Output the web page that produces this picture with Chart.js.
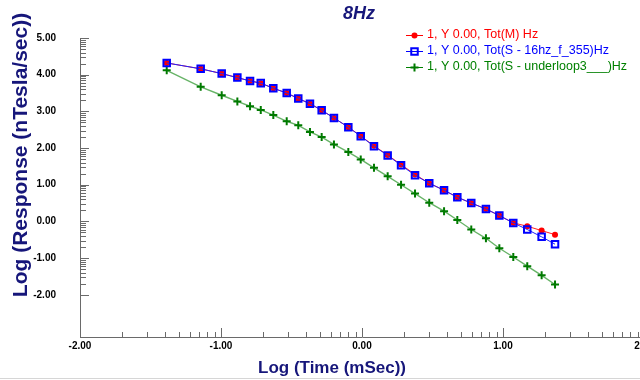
<!DOCTYPE html>
<html>
<head>
<meta charset="utf-8">
<script src="https://cdn.jsdelivr.net/npm/chart.js@4"></script>
<style>
html, body { margin: 0; padding: 0; overflow: hidden; background: #ffffff; width: 640px; height: 380px; }
#wrap { position: relative; width: 660px; height: 380px; }
</style>
</head>
<body>
<div id="wrap"><canvas id="c" width="660" height="380"></canvas></div>
<script>
// ---- data ----
const chartTitle = '8Hz';
const xAxisTitle = 'Log (Time (mSec))';
const yAxisTitle = 'Log (Response (nTesla/sec))';
const seriesNames = [
  '1, Y 0.00, Tot(M) Hz',
  '1, Y 0.00, Tot(S - 16hz_f_355)Hz',
  '1, Y 0.00, Tot(S - underloop3___)Hz'
];
const logTime = [-1.385, -1.144, -0.995, -0.884, -0.794, -0.718, -0.629, -0.534, -0.452, -0.369,
  -0.286, -0.199, -0.097, -0.009, 0.085, 0.182, 0.277, 0.376, 0.477, 0.582,
  0.676, 0.775, 0.879, 0.974, 1.073, 1.172, 1.274, 1.369];
const totM = [4.32, 4.16, 4.03, 3.92, 3.83, 3.77, 3.63, 3.50, 3.35, 3.21,
  3.03, 2.82, 2.57, 2.33, 2.06, 1.81, 1.55, 1.28, 1.04, 0.85,
  0.66, 0.50, 0.34, 0.16, -0.04, -0.13, -0.25, -0.36];
const tot16hz = [4.32, 4.16, 4.03, 3.92, 3.83, 3.77, 3.63, 3.50, 3.35, 3.21,
  3.03, 2.82, 2.57, 2.32, 2.05, 1.80, 1.53, 1.26, 1.04, 0.85,
  0.66, 0.50, 0.34, 0.16, -0.04, -0.22, -0.42, -0.62];
const totUnderloop = [4.12, 3.67, 3.44, 3.27, 3.14, 3.04, 2.90, 2.73, 2.62, 2.44,
  2.30, 2.10, 1.89, 1.69, 1.46, 1.23, 1.00, 0.76, 0.51, 0.28,
  0.04, -0.22, -0.46, -0.73, -0.97, -1.22, -1.47, -1.72];
const xTicks = [-2, -1, 0, 1, 2];
const yTicks = [-2, -1, 0, 1, 2, 3, 4, 5];
const xRange = [-2, 2];
const yRange = [-3.15, 5];

// ---- styling ----
const navy = '#16167a';
const axisGray = '#6a6a6a';
const FONT = '"Liberation Sans", Arial, sans-serif';
const seriesStyles = [
  { color: '#ff0000', pointStyle: 'circle', radius: 3, pbw: 0, pointFill: '#ff0000', pointBorder: '#ff0000', lw: 1, line: '#ff2020' },
  { color: '#0000ff', pointStyle: 'rect', radius: 4.6, pbw: 2, pointFill: 'rgba(0,0,0,0)', pointBorder: '#0000ff', lw: 1, line: '#2020ff' },
  { color: '#008000', pointStyle: 'cross', radius: 4, pbw: 2, pointFill: '#007a00', pointBorder: '#007a00', lw: 1.4, line: 'rgba(0,128,0,0.6)' }
];
const seriesValues = [totM, tot16hz, totUnderloop];
const drawOrder = [1, 0, 2];

const datasets = seriesValues.map((vals, i) => ({
  label: seriesNames[i],
  data: logTime.map((t, j) => ({ x: t, y: vals[j] })),
  showLine: true,
  tension: 0,
  borderColor: seriesStyles[i].line,
  borderWidth: seriesStyles[i].lw,
  backgroundColor: seriesStyles[i].pointFill,
  pointStyle: seriesStyles[i].pointStyle,
  pointRadius: seriesStyles[i].radius,
  pointHoverRadius: seriesStyles[i].radius,
  pointBorderWidth: seriesStyles[i].pbw,
  pointBackgroundColor: seriesStyles[i].pointFill,
  pointBorderColor: seriesStyles[i].pointBorder,
  order: drawOrder[i]
}));

const decorations = {
  id: 'decorations',
  afterDraw(chart) {
    const { ctx, chartArea: a, scales: { x, y } } = chart;
    ctx.save();
    // inward tick marks, major and log-minor
    ctx.strokeStyle = axisGray;
    ctx.lineWidth = 1;
    ctx.beginPath();
    for (let i = 0; i < xTicks.length; i++) {
      const px = Math.round(x.getPixelForValue(xTicks[i])) + 0.5;
      ctx.moveTo(px, a.bottom); ctx.lineTo(px, a.bottom - 9);
      if (i < xTicks.length - 1) {
        for (let k = 2; k <= 9; k++) {
          const mx = Math.round(x.getPixelForValue(xTicks[i] + Math.log10(k))) + 0.5;
          ctx.moveTo(mx, a.bottom); ctx.lineTo(mx, a.bottom - 5);
        }
      }
    }
    for (let i = 0; i < yTicks.length; i++) {
      const py = Math.round(y.getPixelForValue(yTicks[i])) + 0.5;
      ctx.moveTo(a.left, py); ctx.lineTo(a.left + 9, py);
      if (i < yTicks.length - 1) {
        for (let k = 2; k <= 9; k++) {
          const my = Math.round(y.getPixelForValue(yTicks[i] + Math.log10(k))) + 0.5;
          ctx.moveTo(a.left, my); ctx.lineTo(a.left + 6, my);
        }
      }
    }
    ctx.stroke();

    // title
    ctx.fillStyle = navy;
    ctx.font = 'bold italic 18px ' + FONT;
    ctx.textAlign = 'center';
    ctx.textBaseline = 'middle';
    ctx.fillText(chartTitle, 359, 14);

    // axis titles
    ctx.font = 'bold 17px ' + FONT;
    ctx.textBaseline = 'alphabetic';
    ctx.fillText(xAxisTitle, 332, 373);
    ctx.save();
    ctx.translate(27, 155);
    ctx.rotate(-Math.PI / 2);
    ctx.font = 'bold 21px ' + FONT;
    ctx.fillText(yAxisTitle, 0, 0);
    ctx.restore();

    // legend
    ctx.font = '12.5px ' + FONT;
    ctx.textAlign = 'left';
    ctx.textBaseline = 'middle';
    const rows = [35, 51, 67];
    seriesNames.forEach((name, i) => {
      const s = seriesStyles[i];
      const ry = rows[i] + 0.5;
      ctx.strokeStyle = s.color;
      ctx.lineWidth = 1;
      ctx.beginPath(); ctx.moveTo(406, ry); ctx.lineTo(423, ry); ctx.stroke();
      ctx.fillStyle = s.pointFill;
      ctx.strokeStyle = s.pointBorder;
      ctx.lineWidth = s.pbw;
      Chart.helpers.drawPoint(ctx, { pointStyle: s.pointStyle, radius: s.radius, rotation: 0, borderWidth: s.pbw }, 414.5, ry);
      ctx.fillStyle = s.color;
      ctx.fillText(name, 427, rows[i]);
    });

    // frame line at bottom of picture
    ctx.strokeStyle = '#d6d6d6';
    ctx.lineWidth = 1;
    ctx.beginPath(); ctx.moveTo(0, 378.5); ctx.lineTo(640, 378.5); ctx.stroke();
    ctx.restore();
  }
};

new Chart(document.getElementById('c'), {
  type: 'scatter',
  data: { datasets },
  options: {
    responsive: false,
    devicePixelRatio: 1,
    animation: false,
    events: [],
    layout: { padding: { top: 38, right: 16, left: 0, bottom: 0 } },
    plugins: { legend: { display: false }, tooltip: { enabled: false }, title: { display: false } },
    scales: {
      x: {
        type: 'linear',
        min: xRange[0], max: xRange[1],
        afterBuildTicks: s => { s.ticks = xTicks.map(v => ({ value: v })); },
        afterFit: s => { s.height = 43; },
        grid: { display: false, drawTicks: false },
        border: { display: true, color: axisGray, width: 1 },
        ticks: {
          padding: 3,
          autoSkip: false,
          maxRotation: 0,
          color: '#000000',
          font: { family: FONT, size: 10, weight: 'bold' },
          callback: v => Number(v).toFixed(2)
        }
      },
      y: {
        type: 'linear',
        min: yRange[0], max: yRange[1],
        afterBuildTicks: s => { s.ticks = yTicks.map(v => ({ value: v })); },
        afterFit: s => { s.width = 80; },
        grid: { display: false, drawTicks: false },
        border: { display: true, color: axisGray, width: 1 },
        ticks: {
          padding: 24,
          autoSkip: false,
          color: '#000000',
          font: { family: FONT, size: 10, weight: 'bold' },
          callback: v => Number(v).toFixed(2)
        }
      }
    }
  },
  plugins: [decorations]
});
</script>
</body>
</html>
